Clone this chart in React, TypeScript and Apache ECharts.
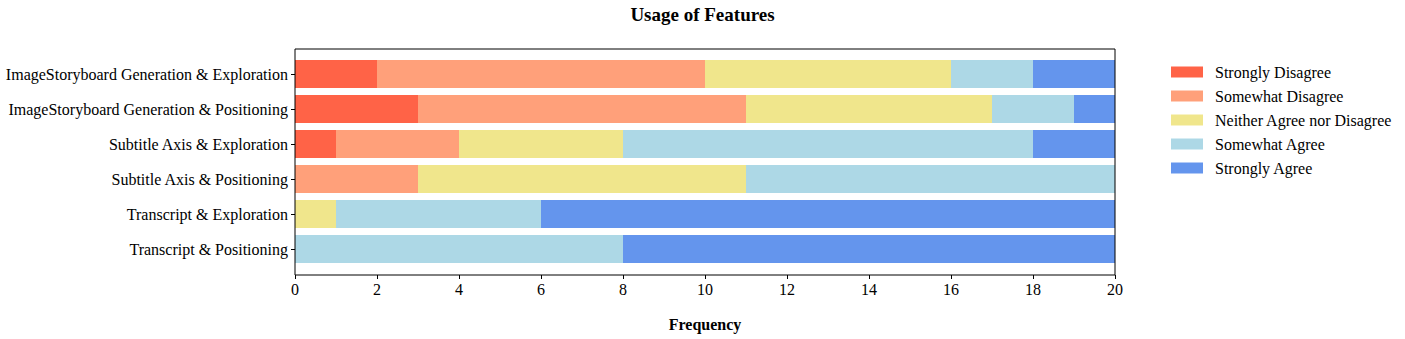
import React, { useEffect, useRef } from "react";
import * as echarts from "echarts";

const categories = [
  "ImageStoryboard Generation & Exploration",
  "ImageStoryboard Generation & Positioning",
  "Subtitle Axis & Exploration",
  "Subtitle Axis & Positioning",
  "Transcript & Exploration",
  "Transcript & Positioning",
];
const seriesNames = [
  "Strongly Disagree",
  "Somewhat Disagree",
  "Neither Agree nor Disagree",
  "Somewhat Agree",
  "Strongly Agree",
];
const stronglyDisagree = [2, 3, 1, 0, 0, 0];
const somewhatDisagree = [8, 8, 3, 3, 0, 0];
const neither = [6, 6, 4, 8, 1, 0];
const somewhatAgree = [2, 2, 10, 9, 5, 8];
const stronglyAgree = [2, 1, 2, 0, 14, 12];
const colors = ["#FF6347", "#FFA07A", "#F0E68C", "#ADD8E6", "#6495ED"];
const xTicks = [0, 20, 2];

const FONT = "'Liberation Serif', 'Times New Roman', serif";

export default function App() {
  const ref = useRef<HTMLDivElement>(null);
  useEffect(() => {
    document.body.style.margin = "0";
    if (!ref.current) return;
    const chart = echarts.init(ref.current, null, { renderer: "svg" });
    const values = [stronglyDisagree, somewhatDisagree, neither, somewhatAgree, stronglyAgree];
    const left = 295, right = 1115, frameTop = 49, frameBottom = 275;
    const gridTop = 56.5, gridBottom = 266.5;
    chart.setOption({
      animation: false,
      textStyle: { fontFamily: FONT },
      title: {
        text: "Usage of Features",
        left: "center",
        top: 0,
        textStyle: { fontFamily: FONT, fontSize: 19, fontWeight: "bold", color: "#000" },
      },
      legend: {
        orient: "vertical",
        left: 1171,
        top: 64,
        padding: 0,
        itemWidth: 32,
        itemHeight: 11,
        itemGap: 8,
        icon: "rect",
        data: seriesNames,
        textStyle: { fontFamily: FONT, fontSize: 16, color: "#000", lineHeight: 16, padding: [0, 0, 0, 7] },
      },
      grid: {
        left: left,
        width: right - left,
        top: gridTop,
        height: gridBottom - gridTop,
        containLabel: false,
        outerBoundsMode: "none",
      },
      xAxis: {
        type: "value",
        min: xTicks[0],
        max: xTicks[1],
        interval: xTicks[2],
        offset: frameBottom - gridBottom,
        name: "Frequency",
        nameLocation: "middle",
        nameGap: 41,
        nameTextStyle: { fontFamily: FONT, fontSize: 16, fontWeight: "bold", color: "#000" },
        axisLine: { show: false },
        axisTick: { show: true, length: 4, lineStyle: { color: "#000" } },
        axisLabel: { fontFamily: FONT, fontSize: 16, color: "#000", margin: 6 },
        splitLine: { show: false },
      },
      yAxis: {
        type: "category",
        data: categories,
        inverse: true,
        axisLine: { show: false },
        axisTick: { show: true, alignWithLabel: true, length: 4, lineStyle: { color: "#000" } },
        axisLabel: { fontFamily: FONT, fontSize: 16, color: "#000", margin: 7 },
      },
      series: seriesNames.map((name, i) => ({
        name,
        type: "bar",
        stack: "total",
        data: values[i],
        barWidth: "80%",
        itemStyle: { color: colors[i] },
      })),
      graphic: [
        {
          type: "rect",
          shape: { x: left, y: frameTop, width: right - left, height: frameBottom - frameTop },
          style: { fill: "none", stroke: "#000", lineWidth: 1 },
          z: 100,
          silent: true,
        },
      ],
    });
    return () => chart.dispose();
  }, []);
  return <div ref={ref} style={{ width: 1405, height: 339 }} />;
}
